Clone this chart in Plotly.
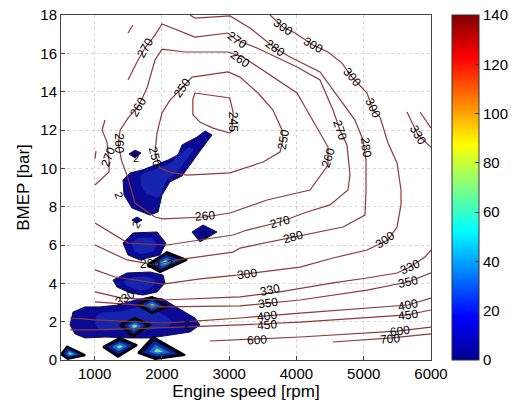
import plotly.graph_objects as go

# ---------------- axes / ticks ----------------
x_ticks = [1000, 2000, 3000, 4000, 5000, 6000]
y_ticks = [0, 2, 4, 6, 8, 10, 12, 14, 16, 18]
cbar_ticks = [0, 20, 40, 60, 80, 100, 120, 140]

# ---------------- iso-BSFC lines (rpm, bar) ----------------
bsfc245_rpm = [2490, 3010, 3060, 3040, 3010, 2760, 2570, 2460, 2460, 2490]
bsfc245_bar = [13.93, 13.67, 12.9, 11.95, 11.84, 12.1, 12.4, 12.8, 13.6, 13.93]

bsfc250_rpm = [2120, 2373, 3012, 3503, 3755, 3800, 3785, 3651, 3429, 3161, 2982, 2447, 2299, 2120, 2001, 1927, 1897, 1972, 2120]
bsfc250_bar = [9.8, 9.65, 9.76, 10.33, 10.85, 11.48, 12.0, 13.04, 13.93, 14.76, 15.03, 14.76, 14.19, 13.56, 12.89, 11.84, 10.85, 10.02, 9.8]

bsfc260_rpm = [1496, 1645, 1779, 1897, 2001, 2343, 2982, 3205, 4008, 4305, 4469, 4469, 4305, 4201, 3562, 3012, 2641, 2016, 1897, 1600, 1496, 1400, 1350, 1380, 1496]
bsfc260_bar = [12.62, 13.2, 14.19, 15.65, 16.22, 16.07, 16.07, 15.81, 13.93, 12.16, 11.11, 10.17, 9.39, 8.87, 8.35, 7.67, 7.46, 7.36, 7.46, 8.19, 9.5, 10.4, 11.3, 12.0, 12.62]

bsfc270_rpm = [1496, 1630, 1749, 1897, 2001, 2343, 2492, 2982, 3116, 3414, 4008, 4350, 4543, 4647, 4751, 4796, 4766, 4498, 4157, 3755, 3265, 3057, 2076, 1496, 1005]
bsfc270_bar = [14.61, 15.55, 16.28, 16.95, 17.53, 17.06, 16.85, 17.06, 16.69, 16.28, 15.29, 14.61, 13.04, 12.0, 11.22, 9.65, 8.87, 8.09, 7.72, 7.2, 6.78, 6.52, 6.0, 6.1, 7.15]
bsfc270b_rpm = [1154, 1110, 1184, 1214, 1214, 1005]
bsfc270b_bar = [12.52, 12.0, 11.37, 10.43, 9.81, 9.13]

bsfc280_rpm = [2418, 2492, 3012, 3309, 3681, 3904, 4350, 4647, 4870, 4989, 5034, 5034, 5019, 4692, 3949, 3161, 3057, 2224, 1897, 1481, 1005]
bsfc280_bar = [18.0, 17.84, 17.95, 17.32, 16.28, 15.81, 15.03, 13.56, 12.52, 11.48, 10.43, 8.87, 7.56, 6.94, 6.42, 5.84, 5.63, 5.22, 4.96, 5.22, 6.0]
bsfc280b_rpm = [1496, 1570]
bsfc280b_bar = [17.06, 17.48]
bsfc280c_rpm = [1020, 1005]
bsfc280c_bar = [10.9, 10.5]

bsfc300_rpm = [3607, 3800, 3978, 4246, 4469, 4677, 4826, 4989, 5049, 5138, 5242, 5361, 5495, 5554, 5554, 5495, 5361, 5049, 4543, 4053, 3116, 2566, 2016, 1303, 1005]
bsfc300_bar = [18.0, 17.37, 17.06, 16.43, 16.07, 15.49, 14.76, 14.19, 13.93, 13.04, 12.68, 11.32, 10.28, 8.87, 8.09, 6.94, 6.26, 5.74, 5.32, 4.85, 4.43, 4.23, 3.96, 4.33, 4.7]

bsfc330a_rpm = [5643, 5807, 6000]
bsfc330a_bar = [12.94, 11.74, 11.1]
bsfc330_rpm = [6000, 5911, 5688, 5495, 5049, 4543, 3755, 3161, 2016, 1407, 1005]
bsfc330_bar = [5.74, 5.37, 4.85, 4.54, 4.28, 4.02, 3.55, 3.29, 3.13, 3.23, 3.55]

bsfc350a_rpm = [5837, 6000]
bsfc350a_bar = [12.94, 12.1]
bsfc350_rpm = [6000, 5658, 5049, 4053, 3161, 2016, 1005]
bsfc350_bar = [4.55, 4.07, 3.65, 3.13, 2.82, 2.77, 3.03]

bsfc400_rpm = [6000, 5658, 4053, 3161, 2269, 2016, 1005, 634]
bsfc400_bar = [3.23, 2.87, 2.45, 2.19, 1.98, 1.93, 2.09, 2.19]

bsfc450_rpm = [6000, 5643, 4053, 3161, 2269, 1005, 634]
bsfc450_bar = [2.61, 2.35, 1.98, 1.83, 1.72, 1.57, 1.57]

bsfc600_rpm = [2715, 3414, 4053, 5495, 6000]
bsfc600_bar = [0.99, 1.1, 1.2, 1.51, 1.72]

bsfc700_rpm = [4543, 5420, 6000]
bsfc700_bar = [0.94, 1.15, 1.36]

# ---------------- contour labels ----------------
label_text = ["245", "250", "250", "250", "260", "260", "260", "260", "260",
              "270", "270", "270", "270", "270", "280", "280", "280", "280",
              "300", "300", "300", "300", "300", "300", "330", "330", "330", "330",
              "350", "350", "400", "400", "450", "450", "600", "600", "700"]
label_rpm = [3050, 2300, 3800, 1900, 1645, 3160, 4469, 2641, 1350,
             1749, 3116, 4647, 3755, 1200, 3681, 5030, 3949, 1820,
             3800, 4246, 4826, 5138, 5316, 3265, 5807, 5688, 3607, 1451,
             5658, 3577, 5658, 3562, 5658, 3562, 3414, 5540, 5390]
label_bar = [12.45, 14.2, 11.5, 10.6, 13.2, 15.7, 10.55, 7.5, 11.3,
             16.28, 16.69, 12.0, 7.2, 10.6, 16.28, 11.1, 6.42, 5.0,
             17.37, 16.43, 14.76, 13.15, 6.26, 4.49, 11.74, 4.85, 3.65, 3.23,
             4.07, 2.97, 2.87, 2.3, 2.35, 1.83, 1.04, 1.5, 1.1]
label_angle = [90, -55, -80, 75, -60, 35, -72, -5, 90,
               -60, 35, 72, -15, -70, 35, 82, -15, 0,
               35, 30, 50, 65, -35, -8, 60, -25, -12, -30,
               -12, -8, -12, -8, -8, -5, -3, -8, -5]

# ---------------- low-value regions of the colour-mapped quantity ----------------
blobA_rpm = [2745, 2641, 2522, 2299, 2239, 2090, 1897, 1704, 1526, 1422, 1437, 1555, 1823, 1942, 2001, 2120, 2299, 2418, 2566]
blobA_bar = [11.74, 11.95, 11.63, 11.22, 10.7, 10.43, 10.17, 9.91, 9.76, 9.39, 8.61, 7.93, 7.56, 7.72, 8.61, 9.3, 9.6, 10.2, 10.9]
blobB_rpm = [1510, 1600, 1690, 1600]
blobB_bar = [10.75, 10.95, 10.8, 10.55]
blobC_rpm = [1555, 1630, 1704, 1630]
blobC_bar = [7.3, 7.46, 7.3, 7.15]
blobD_rpm = [1422, 1570, 1927, 2061, 1972, 1674, 1496]
blobD_bar = [6.1, 6.63, 6.68, 6.1, 5.48, 5.22, 5.48]
blobE_rpm = [2447, 2611, 2819, 2566]
blobE_bar = [6.68, 7.04, 6.68, 6.16]
blobF_rpm = [1273, 1481, 1823, 2016, 2046, 1927, 1719, 1526, 1333]
blobF_bar = [4.17, 4.54, 4.59, 4.43, 4.02, 3.55, 3.39, 3.5, 3.81]
blobG_rpm = [634, 678, 857, 1080, 1347, 1600, 1823, 2016, 2239, 2492, 2566, 2418, 2120, 1823, 1526, 1154, 857, 708]
blobG_bar = [1.83, 2.5, 2.77, 2.77, 2.87, 3.13, 3.29, 3.18, 2.71, 2.19, 1.83, 1.46, 1.3, 1.15, 1.15, 1.2, 1.15, 1.36]

hot1_rpm = [1778, 2076, 2373, 1972]
hot1_bar = [4.96, 5.63, 5.22, 4.59]
hot2_rpm = [1630, 1853, 2090, 1853]
hot2_bar = [2.87, 3.29, 2.77, 2.45]
hot3_rpm = [1377, 1600, 1823, 1570]
hot3_bar = [1.83, 2.19, 1.83, 1.2]
hot4_rpm = [1124, 1377, 1630, 1347]
hot4_bar = [0.68, 1.15, 0.78, 0.16]
hot5_rpm = [1645, 1868, 2343, 1900]
hot5_bar = [0.37, 1.2, 0.26, 0.05]
hot6_rpm = [500, 590, 860, 600]
hot6_bar = [0.3, 0.7, 0.25, 0.06]

small_label_text = ["2", "2", "2", "2", "2", "2"]
small_label_rpm = [2370, 1360, 1610, 2120, 1610, 2640]
small_label_bar = [1.85, 8.6, 7.05, 5.0, 10.55, 6.55]
small_label_angle = [0, 70, -60, 0, 0, -50]

# ---------------- styles ----------------
LINE_COLOR = "#8E3A3A"
FONT = "Liberation Sans, Arial, sans-serif"
jet = [[0.0, "#00008F"], [0.125, "#0000FF"], [0.375, "#00FFFF"],
       [0.625, "#FFFF00"], [0.875, "#FF0000"], [1.0, "#800000"]]

fig = go.Figure()


def shrink(xs, ys, s, dy=0.0):
    cx = sum(xs) / len(xs)
    cy = sum(ys) / len(ys) + dy
    return [cx + s * (x - cx) for x in xs], [cy + s * (y - cy) for y in ys]


def poly(xs, ys, fill, line_color="black", width=1.0):
    fig.add_trace(go.Scatter(x=xs + xs[:1], y=ys + ys[:1], mode="lines", fill="toself",
                             fillcolor=fill, line=dict(color=line_color, width=width),
                             hoverinfo="skip", showlegend=False))


# plain low-value blobs
for xs, ys, big in [(blobA_rpm, blobA_bar, True), (blobB_rpm, blobB_bar, False),
                    (blobC_rpm, blobC_bar, False), (blobD_rpm, blobD_bar, True),
                    (blobE_rpm, blobE_bar, False), (blobF_rpm, blobF_bar, True),
                    (blobG_rpm, blobG_bar, True)]:
    poly(xs, ys, "#0A0A96", "#111133", 1.0)
    if big:
        ix, iy = shrink(xs, ys, 0.6)
        poly(ix, iy, "#1525B0", "rgba(0,0,0,0)", 0)

# diamonds with graded interiors
for xs, ys in [(hot1_rpm, hot1_bar), (hot2_rpm, hot2_bar), (hot3_rpm, hot3_bar),
               (hot4_rpm, hot4_bar), (hot5_rpm, hot5_bar), (hot6_rpm, hot6_bar)]:
    poly(xs, ys, "#05053A", "black", 2.0)
    for s, col in [(0.72, "#0A2A9E"), (0.45, "#1670C8"), (0.2, "#7FD8A0")]:
        ix, iy = shrink(xs, ys, s)
        poly(ix, iy, col, "rgba(0,0,0,0)", 0)

# iso lines
for xs, ys in [(bsfc245_rpm, bsfc245_bar), (bsfc250_rpm, bsfc250_bar),
               (bsfc260_rpm, bsfc260_bar), (bsfc270_rpm, bsfc270_bar),
               (bsfc270b_rpm, bsfc270b_bar), (bsfc280_rpm, bsfc280_bar),
               (bsfc280b_rpm, bsfc280b_bar), (bsfc280c_rpm, bsfc280c_bar),
               (bsfc300_rpm, bsfc300_bar), (bsfc330a_rpm, bsfc330a_bar),
               (bsfc330_rpm, bsfc330_bar), (bsfc350a_rpm, bsfc350a_bar),
               (bsfc350_rpm, bsfc350_bar), (bsfc400_rpm, bsfc400_bar),
               (bsfc450_rpm, bsfc450_bar), (bsfc600_rpm, bsfc600_bar),
               (bsfc700_rpm, bsfc700_bar)]:
    fig.add_trace(go.Scatter(x=xs, y=ys, mode="lines",
                             line=dict(color=LINE_COLOR, width=1.2),
                             hoverinfo="skip", showlegend=False))

# colour bar holder
fig.add_trace(go.Scatter(
    x=[None], y=[None], mode="markers", showlegend=False, hoverinfo="skip",
    marker=dict(color=[0], colorscale=jet, cmin=0, cmax=140, showscale=True,
                colorbar=dict(x=1.057, xanchor="left", xpad=0, y=0.5, yanchor="middle",
                              ypad=0, len=1.0, lenmode="fraction", thickness=27,
                              thicknessmode="pixels", outlinewidth=1,
                              outlinecolor="#333", tickvals=cbar_ticks,
                              ticks="inside", ticklen=4, tickcolor="#333",
                              tickfont=dict(family=FONT, size=15, color="black"))),
))

annotations = []
for t, xr, yb, a in zip(label_text, label_rpm, label_bar, label_angle):
    annotations.append(dict(x=xr, y=yb, xref="x", yref="y", text=t, showarrow=False,
                            textangle=a, font=dict(family=FONT, size=12, color="black")))
for t, xr, yb, a in zip(small_label_text, small_label_rpm, small_label_bar, small_label_angle):
    annotations.append(dict(x=xr, y=yb, xref="x", yref="y", text=t, showarrow=False,
                            textangle=a, font=dict(family=FONT, size=11, color="black")))

fig.update_layout(
    width=519, height=410,
    margin=dict(l=61, r=88, t=15, b=50, autoexpand=False),
    paper_bgcolor="white", plot_bgcolor="white",
    font=dict(family=FONT, color="black"),
    annotations=annotations,
    xaxis=dict(range=[500, 6000], tickvals=x_ticks, showgrid=True, gridcolor="#D4D4D4",
               griddash="dot", gridwidth=1, zeroline=False, showline=True,
               linecolor="#444", linewidth=1, mirror=True, ticks="inside", ticklen=4,
               tickcolor="#444", tickfont=dict(size=15), automargin=False,
               title=dict(text="Engine speed [rpm]", font=dict(size=17), standoff=4)),
    yaxis=dict(range=[0, 18], tickvals=y_ticks, showgrid=True, gridcolor="#D4D4D4",
               griddash="dot", gridwidth=1, zeroline=False, showline=True,
               linecolor="#444", linewidth=1, mirror=True, ticks="inside", ticklen=4,
               tickcolor="#444", tickfont=dict(size=15), automargin=False,
               title=dict(text="BMEP [bar]", font=dict(size=17), standoff=6)),
)

fig.write_html("out.html", config={"displayModeBar": False},
               post_script="document.body.style.margin='0px';document.body.style.overflow='hidden';")
